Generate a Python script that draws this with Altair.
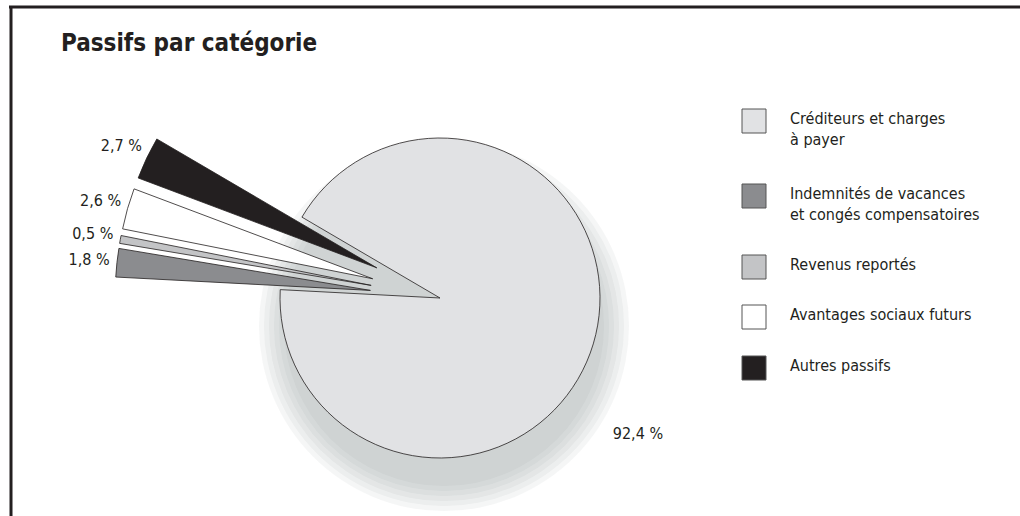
import math
import altair as alt
import pandas as pd

# ---------------- data ----------------
title_text = "Passifs par catégorie"
categories = [
    "Créditeurs et charges à payer",
    "Indemnités de vacances et congés compensatoires",
    "Revenus reportés",
    "Avantages sociaux futurs",
    "Autres passifs",
]
legend_labels = [
    "Créditeurs et charges\nà payer",
    "Indemnités de vacances\net congés compensatoires",
    "Revenus reportés",
    "Avantages sociaux futurs",
    "Autres passifs",
]
values = [92.4, 1.8, 0.5, 2.6, 2.7]
value_labels = ["92,4 %", "1,8 %", "0,5 %", "2,6 %", "2,7 %"]
pie_order = [5, 1, 2, 3, 4]  # clockwise order starting just above 9 o'clock
colors = ["#e1e2e4", "#8b8c8f", "#c3c4c6", "#ffffff", "#231f20"]

# ---------------- layout constants ----------------
CX, CY = 440, 298
R_BIG, R_SMALL = 160, 255
EXPLODE = 70
T0 = math.radians(273)
FONT = "DejaVu Sans Condensed, Liberation Sans Narrow, sans-serif"

df = pd.DataFrame({
    "cat": categories,
    "legend": legend_labels,
    "value": values,
    "label": value_labels,
    "order": pie_order,
})

color_scale = alt.Scale(domain=categories, range=colors)

base = (
    alt.Chart(df)
    .transform_joinaggregate(total="sum(value)")
    .transform_window(cum="sum(value)", sort=[alt.SortField("order")], frame=[None, 0])
    .transform_calculate(
        a1=f"{T0} + 2*PI*datum.cum/datum.total",
        a0=f"{T0} + 2*PI*(datum.cum - datum.value)/datum.total",
    )
    .transform_calculate(
        mid="(datum.a0 + datum.a1)/2",
        ex=f"datum.value > 50 ? 0 : {EXPLODE}",
        r=f"datum.value > 50 ? {R_BIG} : {R_SMALL}",
    )
    .transform_calculate(
        cx=f"{CX} + datum.ex*sin(datum.mid)",
        cy=f"{CY} - datum.ex*cos(datum.mid)",
        lr="datum.value > 50 ? datum.r + 80 : datum.ex + datum.r + 28",
        lmid="datum.value > 50 ? datum.mid + 0.31 : datum.mid",
    )
    .transform_calculate(
        lx=f"{CX} + datum.lr*sin(datum.lmid)",
        ly=f"{CY} - datum.lr*cos(datum.lmid)",
    )
)

slices = base.mark_arc(stroke="#231f20", strokeWidth=0.8).encode(
    x=alt.X("cx:Q", scale=None, axis=None),
    y=alt.Y("cy:Q", scale=None, axis=None),
    theta=alt.Theta("a0:Q", scale=None, stack=None),
    theta2=alt.Theta2("a1:Q"),
    radius=alt.Radius("r:Q", scale=None, stack=None),
    color=alt.Color("cat:N", scale=color_scale, legend=None),
)

pie_labels = base.mark_text(font=FONT, fontSize=16, color="#231f20").encode(
    x=alt.X("lx:Q", scale=None, axis=None),
    y=alt.Y("ly:Q", scale=None, axis=None),
    text="label:N",
)

one = pd.DataFrame({"k": [0]})

# soft shadow beneath the pie
shadow_layers = []
for extra in [0, 5, 10, 15, 20, 25]:
    shadow_layers.append(
        alt.Chart(one).mark_arc(
            theta=0, theta2=2 * math.pi, radius=R_BIG + extra,
            color="#9fa3a8", opacity=0.1,
        ).encode(x=alt.value(CX + 4), y=alt.value(CY + 28))
    )

legend_base = alt.Chart(df).transform_window(idx="row_number()")
legend_y = alt.Y(
    "idx:Q",
    scale=alt.Scale(domain=[1, 2, 3, 4, 5], range=[121, 196, 267, 317, 368]),
    axis=None,
)

legend_boxes = legend_base.mark_square(size=576, stroke="#555555", strokeWidth=1, opacity=1).encode(
    x=alt.value(754),
    y=legend_y,
    color=alt.Color("cat:N", scale=color_scale, legend=None),
)

legend_text = legend_base.mark_text(
    font=FONT, fontSize=16, color="#231f20", align="left", baseline="top",
    dy=-10, lineBreak="\n", lineHeight=21,
).encode(
    x=alt.value(790),
    y=legend_y,
    text="legend:N",
)

title = alt.Chart(pd.DataFrame({"t": [title_text]})).mark_text(
    font=FONT, fontSize=24, fontWeight="bold", color="#231f20", align="left", baseline="alphabetic",
).encode(x=alt.value(61), y=alt.value(51), text="t:N")

frame_top = alt.Chart(one).mark_rule(color="#231f20", strokeWidth=3).encode(
    x=alt.value(9), x2=alt.value(1020), y=alt.value(7)
)
frame_left = alt.Chart(one).mark_rule(color="#231f20", strokeWidth=3).encode(
    x=alt.value(11), y=alt.value(6), y2=alt.value(516)
)

chart = alt.layer(
    *shadow_layers, slices, pie_labels, legend_boxes, legend_text, title, frame_top, frame_left
).properties(
    width=1020, height=516, padding=0, autosize="none", background="white"
).configure_view(stroke=None)

chart.save("out.html", embed_options={"renderer": "svg", "actions": False})
